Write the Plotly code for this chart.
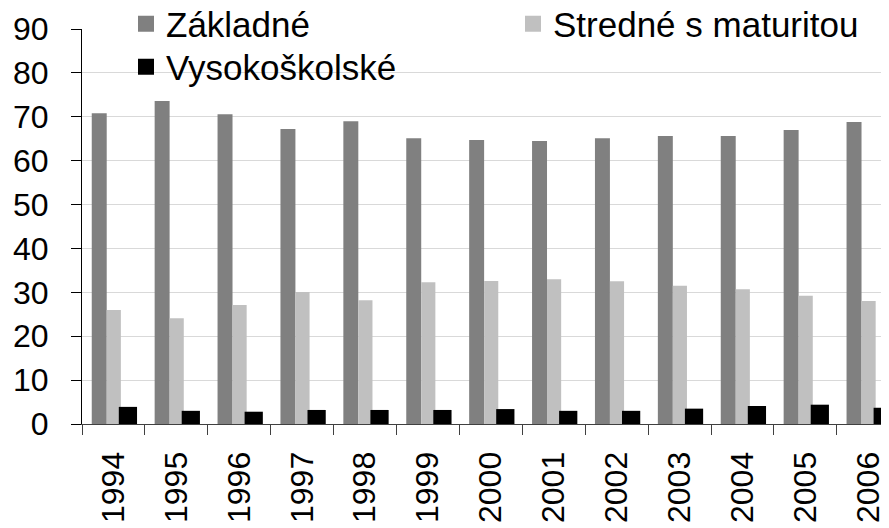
import plotly.graph_objects as go

years = ["1994", "1995", "1996", "1997", "1998", "1999", "2000",
         "2001", "2002", "2003", "2004", "2005", "2006"]
zakladne = [70.8, 73.6, 70.6, 67.2, 69.0, 65.1, 64.7, 64.5, 65.1, 65.6, 65.6, 67.0, 68.8]
stredne = [26.0, 24.1, 27.1, 30.1, 28.2, 32.3, 32.6, 33.0, 32.5, 31.5, 30.7, 29.2, 28.0]
vysoko = [3.9, 3.0, 2.8, 3.2, 3.2, 3.2, 3.4, 3.0, 3.0, 3.5, 4.1, 4.4, 3.7]

series = [
    ("Základné", zakladne, "#808080", -0.345, 0.238, "legend"),
    ("Stredné s maturitou", stredne, "#c0c0c0", -0.107, 0.225, "legend2"),
    ("Vysokoškolské", vysoko, "#000000", 0.085, 0.29, "legend3"),
]

FONT = "Liberation Sans, Arial, sans-serif"

# page has an 8px body margin; plot area target: x 82..897, y 29..424
PW, PH = 815.0, 395.0

fig = go.Figure()
for name, vals, color, off, w, leg in series:
    fig.add_trace(go.Bar(x=years, y=vals, name=name, legendgroup=name,
                         marker=dict(color=color, line=dict(width=0)),
                         offset=off, width=w, showlegend=False))
    # legend entry with a larger square swatch
    fig.add_trace(go.Scatter(x=[None], y=[None], name=name, legendgroup=name,
                             mode="markers", legend=leg, showlegend=True,
                             marker=dict(symbol="square", size=16, color=color,
                                         line=dict(width=0))))

leg_common = dict(font=dict(family=FONT, size=35, color="#000000"),
                  bgcolor="rgba(0,0,0,0)", borderwidth=0, itemsizing="trace",
                  xanchor="left", yanchor="middle", orientation="h")

fig.update_layout(
    template="none",
    width=889, height=528,
    showlegend=True,
    margin=dict(l=74, r=0, t=21, b=112, autoexpand=False),
    paper_bgcolor="white", plot_bgcolor="white",
    barmode="overlay",
    font=dict(family=FONT, size=32, color="#000000"),
    legend=dict(x=(126 - 82) / PW, y=1 + (29 - 24) / PH, **leg_common),
    legend2=dict(x=(513 - 82) / PW, y=1 + (29 - 24) / PH, **leg_common),
    legend3=dict(x=(126 - 82) / PW, y=1 - (67 - 29) / PH, **leg_common),
    xaxis=dict(
        type="category", range=[-0.5, -0.5 + PW / 62.9], automargin=False,
        showline=True, linecolor="#404040", linewidth=1,
        ticks="outside", ticklen=10, tickcolor="#404040", tickwidth=1,
        tickson="boundaries", tickangle=-90,
        tickfont=dict(family=FONT, size=32, color="#000000"),
        ticklabelstandoff=14,
        showgrid=False, zeroline=False,
    ),
    yaxis=dict(
        range=[0, 90], dtick=10, tick0=0, automargin=False,
        showline=True, linecolor="#000000", linewidth=1,
        ticks="outside", ticklen=10, tickcolor="#000000", tickwidth=1,
        tickfont=dict(family=FONT, size=32, color="#000000"),
        ticklabelstandoff=16,
        showgrid=True, gridcolor="#d9d9d9", gridwidth=1,
        zeroline=False,
    ),
)

fig.write_html("out.html")
